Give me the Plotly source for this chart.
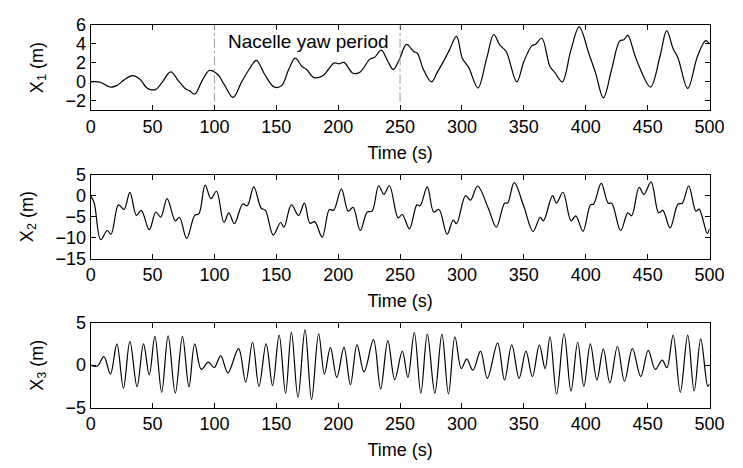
import plotly.graph_objects as go

# ---------------- data ----------------
t1 = [0, 5, 8, 15.5, 21, 27, 33.8, 39.6, 46, 52.7, 58, 64.7, 71, 76.3, 80, 84.1, 90, 95.9, 102.5, 108,
      115, 122, 128, 133.9, 140.5, 148.3, 154.3, 160, 165.3, 170.6, 174.5, 180.5, 187.6, 192, 196.8, 200.8,
      204.7, 212, 217.8, 225.6, 229.5, 234.8, 240, 244.5, 249.2, 255.2, 261, 264, 268.9, 275.4, 280, 284.5,
      289.8, 295.6, 300.3, 305.5, 312.9, 320, 325.7, 330.5, 335.7, 344.3, 350, 356.7, 359.3, 364.5, 371,
      375, 381, 388, 394.7, 402.5, 407.8, 414.3, 420.9, 427.4, 430.8, 434, 439.2, 443.1, 452.3, 460, 465.4,
      470.6, 474.6, 482.4, 490.3, 496.9, 500]
x1_vals = [0, 0, -0.05, -0.55, -0.4, 0.2, 0.65, 0.3, -0.7, -0.8, 0, 1.05, 0.1, -0.7, -0.95, -1.3, 0.1, 1.2,
           0.8, -0.3, -1.65, 0, 1.3, 2.27, 0.8, -0.55, -0.4, 1.3, 2.5, 1.65, 1.3, 0.45, 0.65, 1.3, 2.0, 1.9,
           2.05, 0.9, 1.05, 2.4, 2.6, 3.35, 2.2, 1.3, 2.3, 3.95, 3.2, 3.0, 1.3, 0, 1.0, 2.0, 3.35, 4.8, 2.5,
           1.5, -0.65, 2.5, 5.0, 3.9, 3.2, 0, 2.15, 3.85, 3.95, 4.6, 1.65, 1.0, 0, 3.35, 5.8, 3.0, 1.0, -1.7,
           1.3, 4.3, 4.45, 4.9, 3.0, 1.65, -0.55, 2.7, 5.4, 3.5, 2.5, -0.7, 2.7, 4.35, 4.0]

t2 = [0, 2.9, 8.1, 13.4, 16.5, 22.5, 27, 31.7, 37, 40.9, 47.4, 52.7, 56.6, 61.8, 68.4, 71.8, 77.6, 84.1,
      87.5, 92.5, 97.2, 101.7, 107.7, 111.7, 116.1, 122.9, 126.6, 131.8, 137.8, 141.2, 147.5, 153.5, 156.2,
      162.2, 168, 172.7, 177.2, 181, 187.1, 192.9, 196.3, 202.6, 208.1, 212, 217.8, 223.5, 227.4, 232.7,
      236.9, 241.4, 248.4, 251.7, 257.6, 263.6, 266.2, 272, 277.2, 281.4, 288, 292.9, 295.6, 302.9, 306.9,
      312.6, 321.3, 327.8, 334.4, 337, 342.2, 350, 357.4, 363.2, 365.8, 373.2, 376.3, 381.6, 388.1, 392,
      397.8, 403.8, 406.4, 412.5, 418.2, 421, 428.2, 434, 437.1, 443.1, 447, 452.8, 458.9, 462.3, 468.1,
      474.6, 478, 483.2, 489, 491.6, 498.2, 500]
x2_vals = [0, -1.8, -10.5, -8.3, -9.2, -2.2, -3.3, 0.8, -4.7, -3.5, -8.1, -3.9, -5.1, -0.7, -6.0, -5.2,
           -10.2, -4.7, -4.3, 2.5, -0.7, 1.05, -6.4, -4.1, -6.7, -2.0, -2.4, 2.1, -3.0, -3.5, -9.4, -6.4,
           -7.5, -2.2, -4.7, -1.8, -6.6, -6.2, -9.9, -3.3, -3.5, 1.6, -3.7, -2.8, -8.3, -3.9, -3.7, 2.35,
           0.3, 2.35, -5.3, -4.5, -7.9, -2.2, -2.4, 2.1, -3.9, -3.3, -9.2, -5.8, -6.7, 0, -1.1, 2.3, -3.0,
           -7.5, -1.8, -1.7, 3.1, -2.6, -8.5, -5.2, -6.0, 0, -1.8, 0.8, -6.0, -4.8, -8.5, -2.2, -2.0, 2.9,
           -1.8, -1.8, -8.3, -4.1, -4.8, 2.0, 0.3, 3.3, -4.1, -3.5, -7.7, -2.0, -1.8, 2.3, -3.7, -3.2, -9.0,
           -7.9]

t3 = [0, 5.5, 10.7, 16, 21.2, 26.5, 31.7, 37.5, 42.7, 47.4, 51.9, 57.4, 62.6, 68.4, 74.2, 79.4, 84.1,
      89.4, 95.1, 99.8, 105.1, 110.9, 119.5, 125.3, 130.8, 136, 141.8, 147, 152.3, 157.5, 162.2, 167.5,
      173.2, 178.5, 184.2, 188.9, 193.7, 198.9, 204.7, 209.9, 215.2, 220.9, 228.5, 234.3, 240.1, 245.7,
      251.8, 256.3, 261.5, 266.8, 272, 278.1, 283.8, 289.1, 294.3, 299.5, 303.8, 308.9, 315, 320.5, 328.8,
      334.4, 340.2, 346.2, 351.7, 356.9, 362.5, 367.2, 371.1, 376.5, 382.5, 388.1, 393.5, 398.5, 403.7,
      409, 414.2, 419.5, 425.6, 431.3, 437.7, 444.4, 450.5, 456.2, 461.8, 465.6, 470.6, 476.4, 482.4,
      487.6, 492.9, 498.6, 500]
x3_vals = [0, -0.1, 1.0, -1.05, 2.5, -2.7, 2.8, -2.55, 2.5, -1.15, 3.4, -3.2, 3.45, -3.3, 3.4, -2.55, 2.5,
           -0.5, 0.35, -0.3, 1.1, -0.9, 1.95, -2.0, 2.7, -2.5, 2.5, -2.4, 3.55, -3.3, 3.9, -3.8, 4.2, -4.05,
           3.7, -1.05, 2.1, -1.45, 2.1, -2.3, 2.4, -0.8, 3.0, -2.8, 2.9, -1.7, 1.65, -1.45, 3.85, -3.3, 3.65,
           -3.3, 3.65, -3.4, 3.35, -0.4, 0.7, -0.6, 1.65, -1.55, 2.6, -1.75, 2.4, -1.55, 1.65, -1.35, 2.35,
           -0.4, 3.35, -3.4, 3.7, -3.05, 2.7, -2.5, 2.5, -1.75, 1.9, -2.1, 2.2, -1.9, 1.95, -1.35, 1.75,
           -0.5, 0.6, -0.3, 3.55, -3.2, 3.55, -3.05, 3.1, -2.5, -2.2]

yaw_period = [100, 250]
yaw_label = "Nacelle yaw period"
x_ticks = [0, 50, 100, 150, 200, 250, 300, 350, 400, 450, 500]
y_titles = ["X<sub>1</sub> (m)", "X<sub>2</sub> (m)", "X<sub>3</sub> (m)"]
y_ranges = [[-3, 6], [-15, 5], [-5, 5]]
y_ticks = [[-2, 0, 2, 4, 6], [-15, -10, -5, 0, 5], [-5, 0, 5]]

assert len(t1) == len(x1_vals) and len(t2) == len(x2_vals) and len(t3) == len(x3_vals)

# ---------------- figure ----------------
W, H = 743, 468
FONT = "Liberation Sans, Arial, Helvetica, sans-serif"
x_dom = [88 / W, 724 / W]
y_doms = [[1 - 104.7 / H, 1 - 15.7 / H],
          [1 - 259.7 / H, 1 - 172 / H],
          [1 - 415.3 / H, 1 - 326.7 / H]]

fig = go.Figure()
series = [(t1, x1_vals), (t2, x2_vals), (t3, x3_vals)]
for i, (tt, vv) in enumerate(series):
    sfx = "" if i == 0 else str(i + 1)
    fig.add_trace(go.Scatter(x=tt, y=vv, mode="lines",
                             line=dict(color="black", width=1.2, shape="spline", smoothing=1.0),
                             xaxis="x" + sfx, yaxis="y" + sfx, showlegend=False, hoverinfo="skip"))

layout = dict(width=W, height=H, margin=dict(l=0, r=0, t=0, b=0),
              paper_bgcolor="white", plot_bgcolor="white",
              font=dict(family=FONT, size=18, color="black"))
for i in range(3):
    sfx = "" if i == 0 else str(i + 1)
    layout["xaxis" + sfx] = dict(domain=x_dom, anchor="y" + sfx, range=[0, 500],
                                 tickvals=x_ticks, ticks="inside", ticklen=5, tickcolor="black",
                                 showline=True, linecolor="black", linewidth=1, mirror="ticks",
                                 showgrid=False, zeroline=False, tickfont=dict(size=18),
                                 title=dict(text="Time (s)", standoff=10, font=dict(size=18)))
    layout["yaxis" + sfx] = dict(domain=y_doms[i], anchor="x" + sfx, range=y_ranges[i],
                                 tickvals=y_ticks[i], ticks="inside", ticklen=5, tickcolor="black",
                                 showline=True, linecolor="black", linewidth=1, mirror="ticks",
                                 showgrid=False, zeroline=False, tickfont=dict(size=18),
                                 title=dict(text=y_titles[i], standoff=17, font=dict(size=18)))
fig.update_layout(**layout)

for b in yaw_period:
    fig.add_shape(type="line", xref="x", yref="y", x0=b, x1=b, y0=-2.1, y1=6,
                  line=dict(color="#9a9ab4", width=1, dash="dashdot"))

fig.add_annotation(x=sum(yaw_period) / 2 + 0.8, y=4.3, xref="x", yref="y", text=yaw_label,
                   showarrow=False, font=dict(size=19, family=FONT, color="black"),
                   xanchor="center", yanchor="middle")

fig.write_html("out.html")
